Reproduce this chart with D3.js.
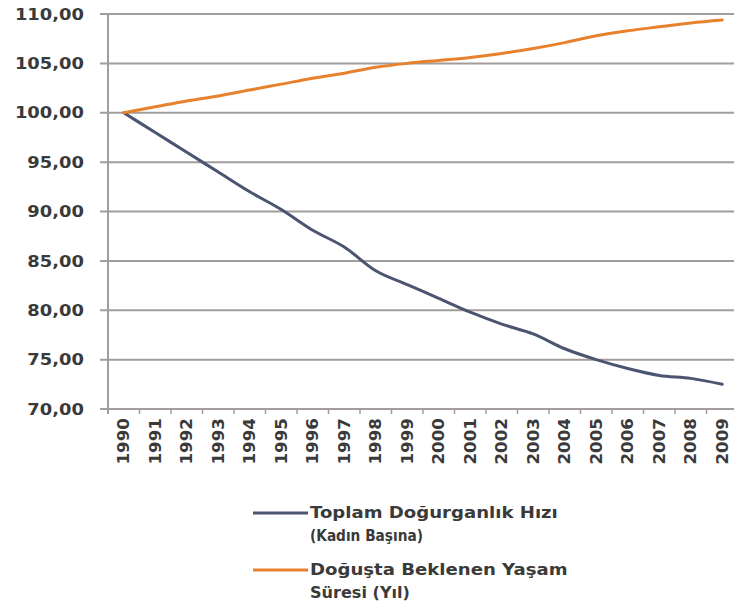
<!DOCTYPE html>
<html>
<head>
<meta charset="utf-8">
<script src="https://cdn.jsdelivr.net/npm/d3@7"></script>
<style>
  html, body { margin: 0; padding: 0; background: #ffffff; }
  svg text { font-family: "DejaVu Sans", Verdana, sans-serif; font-weight: bold; fill: #3a3a3a; }
</style>
</head>
<body>
<svg id="chart" width="734" height="610"></svg>
<script>
// Years on the category axis
const years = ["1990","1991","1992","1993","1994","1995","1996","1997","1998","1999",
               "2000","2001","2002","2003","2004","2005","2006","2007","2008","2009"];

// Index values (1990 = 100)
const fertility = [100.0, 98.0, 96.0, 94.0, 92.0, 90.2, 88.1, 86.4, 84.0, 82.6,
                   81.2, 79.8, 78.6, 77.6, 76.1, 75.0, 74.1, 73.4, 73.1, 72.5];
const lifeExpectancy = [100.0, 100.6, 101.2, 101.7, 102.3, 102.9, 103.5, 104.0, 104.6, 105.0,
                        105.3, 105.6, 106.0, 106.5, 107.1, 107.8, 108.3, 108.7, 109.1, 109.4];

// Y axis ticks
const yTicks = [70, 75, 80, 85, 90, 95, 100, 105, 110];

// Legend entries
const seriesNames = [
  ["Toplam Doğurganlık Hızı", "(Kadın Başına)"],
  ["Doğuşta Beklenen  Yaşam", "Süresi (Yıl)"]
];
const seriesColors = ["#4b5470", "#e8812c"];

const svg = d3.select("#chart");
const plot = { left: 108, right: 738, top: 14, bottom: 409 };

const x = d3.scaleBand().domain(years).range([plot.left, plot.right]);
const y = d3.scaleLinear().domain([70, 110]).range([plot.bottom, plot.top]);

const gridColor = "#a29c9a";
const fmt = v => d3.format(".2f")(v).replace(".", ",");

// Horizontal gridlines (extending past the axis as tick marks)
svg.append("g").selectAll("line").data(yTicks).join("line")
  .attr("x1", plot.left - 8).attr("x2", plot.right)
  .attr("y1", d => y(d)).attr("y2", d => y(d))
  .attr("stroke", gridColor).attr("stroke-width", 2);

// Vertical axis line
svg.append("line")
  .attr("x1", plot.left).attr("x2", plot.left).attr("y1", plot.top).attr("y2", plot.bottom + 5)
  .attr("stroke", gridColor).attr("stroke-width", 2);

// Category tick marks between bands
svg.append("g").selectAll("line").data(years.slice(1)).join("line")
  .attr("x1", d => x(d)).attr("x2", d => x(d))
  .attr("y1", plot.bottom).attr("y2", plot.bottom + 5)
  .attr("stroke", gridColor).attr("stroke-width", 1.5);

// Y axis labels, stretched slightly wider
svg.append("g").selectAll("text").data(yTicks).join("text")
  .attr("text-anchor", "end")
  .attr("dominant-baseline", "central")
  .attr("font-size", 16)
  .attr("transform", d => `translate(84,${y(d)}) scale(1.12,1)`)
  .text(d => fmt(d));

// X axis labels, rotated
svg.append("g").selectAll("text").data(years).join("text")
  .attr("transform", d => `translate(${x(d) + x.bandwidth() / 2},418) rotate(-90) scale(1.08,1)`)
  .attr("text-anchor", "end")
  .attr("dominant-baseline", "central")
  .attr("font-size", 15.5)
  .text(d => d);

// Series lines
const line = d3.line()
  .x((d, i) => x(years[i]) + x.bandwidth() / 2)
  .y(d => y(d))
  .curve(d3.curveMonotoneX);

[fertility, lifeExpectancy].forEach((vals, i) => {
  svg.append("path")
    .datum(vals)
    .attr("d", line)
    .attr("fill", "none")
    .attr("stroke", seriesColors[i])
    .attr("stroke-width", 3)
    .attr("stroke-linejoin", "round")
    .attr("stroke-linecap", "round");
});

// Legend
const legendRows = [513, 570];
const legendWidths = [[248, 113], [258, 100]];
seriesNames.forEach((lines, i) => {
  const g = svg.append("g").attr("transform", `translate(0,${legendRows[i]})`);
  g.append("line").attr("x1", 253).attr("x2", 308).attr("y1", 0).attr("y2", 0)
    .attr("stroke", seriesColors[i]).attr("stroke-width", 3);
  lines.forEach((t, j) => {
    const txt = g.append("text")
      .attr("font-size", 15)
      .attr("transform", `translate(310,${5 + j * 23})`)
      .text(t);
    const w = txt.node().getComputedTextLength();
    txt.attr("transform", `translate(310,${5 + j * 23}) scale(${legendWidths[i][j] / w},1)`);
  });
});
</script>
</body>
</html>
